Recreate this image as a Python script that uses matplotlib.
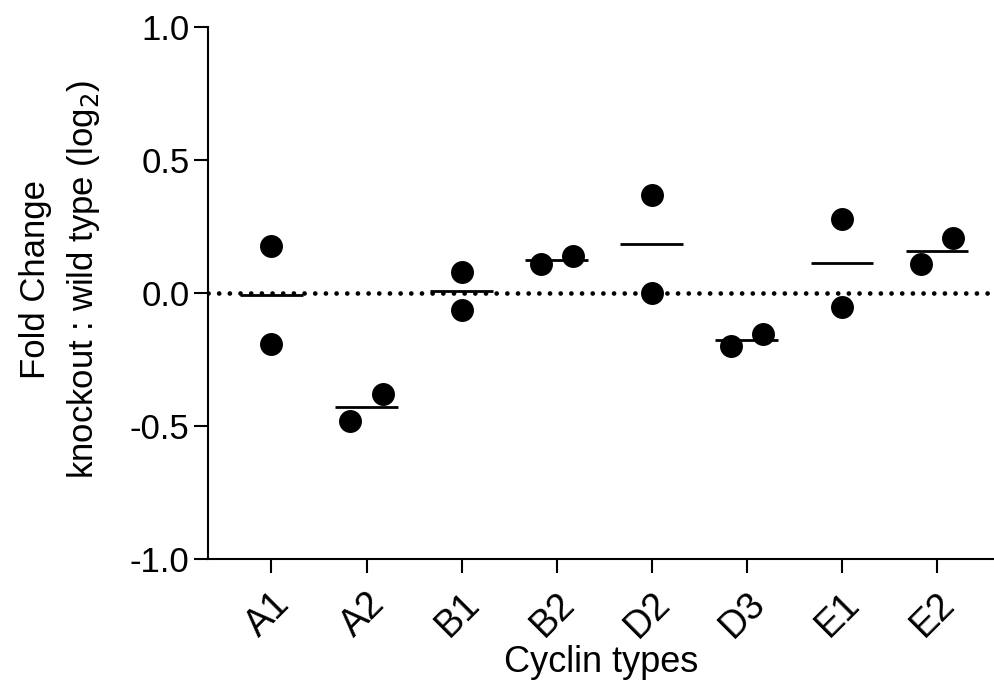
import numpy as np
import matplotlib.pyplot as plt

plt.rcParams['font.family'] = ['Liberation Sans', 'DejaVu Sans']

cyclins = ['A1', 'A2', 'B1', 'B2', 'D2', 'D3', 'E1', 'E2']
rep1 = [0.177, -0.479, 0.079, 0.110, 0.368, -0.199, 0.278, 0.109]
rep2 = [-0.190, -0.378, -0.062, 0.140, 0.000, -0.152, -0.053, 0.208]
# horizontal jitter used by the original plot (in category units)
jit1 = [0.0, -0.17, 0.0, -0.17, 0.0, -0.17, 0.0, -0.17]
jit2 = [0.0, 0.17, 0.0, 0.17, 0.0, 0.17, 0.0, 0.17]

fig = plt.figure(figsize=(9.94, 6.81), dpi=100)
ax = fig.add_axes([0.209, 0.179, 0.791, 0.781])

X = np.arange(len(cyclins))
ax.axhline(0, color='black', lw=3.4, linestyle=(0, (0.01, 2.25)),
           dash_capstyle='round', zorder=1)

means = (np.array(rep1) + np.array(rep2)) / 2
ax.hlines(means, X - 0.33, X + 0.33, color='black', lw=2, zorder=2)

ax.plot(X + np.array(jit1), rep1, 'o', color='black', ms=15.5, zorder=3)
ax.plot(X + np.array(jit2), rep2, 'o', color='black', ms=15.5, zorder=3)

ax.set_xlim(-0.67, 7.6)
ax.set_ylim(-1.0, 1.0)
ax.set_yticks([-1.0, -0.5, 0.0, 0.5, 1.0])
ax.set_yticklabels(['-1.0', '-0.5', '0.0', '0.5', '1.0'])
ax.set_xticks(X)
ax.set_xticklabels(cyclins, rotation=45, ha='right', rotation_mode='anchor')

for s in ['top', 'right']:
    ax.spines[s].set_visible(False)
for s in ['left', 'bottom']:
    ax.spines[s].set_linewidth(1.5)
ax.tick_params(axis='y', labelsize=25, width=1.5, length=10, pad=3)
ax.tick_params(axis='x', labelsize=27, width=1.5, length=10, pad=9)

ax.set_xlabel('Cyclin types', fontsize=26, labelpad=0)
ax.set_ylabel('Fold Change\nknockout : wild type (log$_2$)', fontsize=25,
              linespacing=1.45)
ax.yaxis.set_label_coords(-0.135, 0.525)

fig.savefig('out.png', dpi=100)
